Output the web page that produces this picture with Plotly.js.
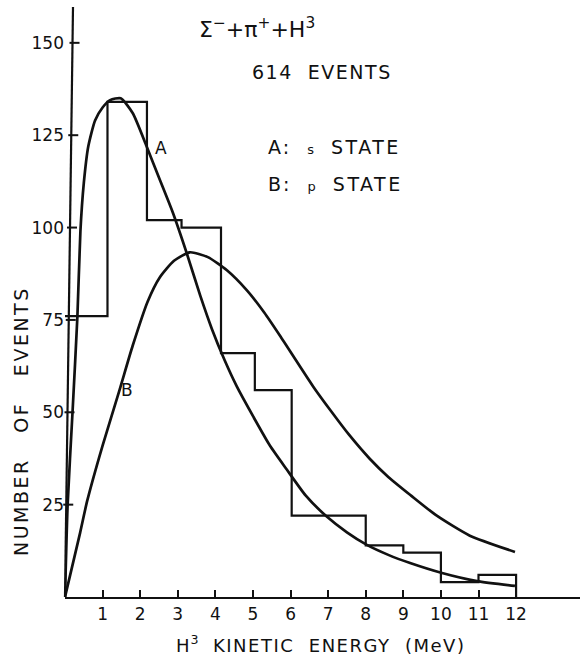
<!DOCTYPE html>
<html>
<head>
<meta charset="utf-8">
<script src="https://cdn.plot.ly/plotly-3.0.1.min.js"></script>
<style>html,body{margin:0;padding:0;background:#fff;}</style>
</head>
<body>
<div id="chart" style="width:580px;height:662px;"></div>
<script>
// Histogram of events (bin edges in MeV, counts per bin)
const binEdges = [0, 1.13, 2.18, 3.1, 4.15, 5.05, 6.03, 8, 9, 10, 11, 12];
const binCounts = [76, 134, 102, 100, 66, 56, 22, 14, 12, 4, 6];

// Curve A: s state
const curveAx = [0, 0.07, 0.2, 0.33, 0.41, 0.5, 0.62, 0.8, 1.0, 1.2, 1.48, 1.8, 2.17, 2.52, 2.87, 3.24, 3.6, 3.91, 4.25, 4.57, 5.01, 5.45, 5.9, 6.4, 6.97, 7.5, 8.03, 8.6, 9.18, 10.03, 10.96, 11.97];
const curveAy = [0, 25, 50, 76, 99, 112, 122, 129, 132.5, 134.5, 135, 131, 122, 113, 104, 93, 81.5, 72.5, 64, 57, 48.8, 41, 34.5, 27.5, 21.7, 17.5, 14.1, 11.4, 9.2, 6.5, 4.3, 3.0];

// Curve B: p state
const curveBx = [0, 0.4, 0.59, 1.0, 1.45, 1.8, 2.2, 2.52, 2.9, 3.32, 3.8, 4.3, 4.84, 5.3, 5.72, 6.6, 7.1, 7.55, 8.1, 8.6, 9.2, 9.89, 10.77, 11.97];
const curveBy = [0, 17.3, 26, 41, 56, 68, 80, 86.5, 91, 93.3, 92, 88.5, 83, 77, 70.7, 57, 50, 44, 37.5, 32.5, 27.5, 22, 16.6, 12.2];

const xTicks = [1, 2, 3, 4, 5, 6, 7, 8, 9, 10, 11, 12];
const yTicks = [25, 50, 75, 100, 125, 150];

// layout geometry
const W = 580, H = 662, L = 65, T = 7, B = 65, R = 0;
const PW = W - L - R, PH = H - T - B;
const xMax = 13.7, yMax = 159.7;
const px = (x) => (x - L) / PW;
const py = (y) => (H - B - y) / PH;
const tilt = 8; // px lean of the hand-drawn y axis at top

// histogram step line
const hx = binEdges.slice();
const hy = binCounts.concat([binCounts[binCounts.length - 1]]);
hx.push(binEdges[binEdges.length - 1]);
hy.push(0);

const ink = '#111';
const FONT = 'DejaVu Sans, sans-serif';

const traces = [
  {x: hx, y: hy, mode: 'lines', line: {shape: 'hv', color: ink, width: 2.2}, hoverinfo: 'skip'},
  {x: curveAx, y: curveAy, mode: 'lines', line: {shape: 'spline', smoothing: 0.6, color: ink, width: 2.7}, hoverinfo: 'skip'},
  {x: curveBx, y: curveBy, mode: 'lines', line: {shape: 'spline', smoothing: 0.6, color: ink, width: 2.7}, hoverinfo: 'skip'}
];

const shapes = [
  {type: 'line', xref: 'paper', yref: 'paper', x0: 0, y0: 0, x1: tilt / PW, y1: 1, line: {color: ink, width: 2.2}}
];
yTicks.forEach(v => {
  const xa = tilt * v / yMax; // px offset of axis at this height
  shapes.push({type: 'line', xref: 'paper', yref: 'y', x0: (xa - 3) / PW, x1: (xa + 7) / PW, y0: v, y1: v, line: {color: ink, width: 2}});
});

const nb = '\u00A0';
const sp = (s, ls) => '<span style="letter-spacing:' + ls + 'px">' + s + '</span>';
const annotations = [
  {text: 'Σ<sup>−</sup>+π<sup>+</sup>+H<sup>3</sup>', xref: 'paper', yref: 'paper', x: px(257), y: py(28), xanchor: 'center', yanchor: 'middle', showarrow: false, font: {family: FONT, size: 22, color: ink}},
  {text: sp('614' + nb + nb + 'EVENTS', 1.5), xref: 'paper', yref: 'paper', x: px(322), y: py(72), xanchor: 'center', yanchor: 'middle', showarrow: false, font: {family: FONT, size: 19, color: ink}},
  {text: sp('A:' + nb + nb, 2) + '<span style="font-size:13px">s</span>' + sp(nb + nb + 'STATE', 2.5), xref: 'paper', yref: 'paper', x: px(266), y: py(147), xanchor: 'left', yanchor: 'middle', showarrow: false, font: {family: FONT, size: 19, color: ink}},
  {text: sp('B:' + nb + nb, 2) + '<span style="font-size:13px">p</span>' + sp(nb + nb + 'STATE', 2.5), xref: 'paper', yref: 'paper', x: px(266), y: py(184), xanchor: 'left', yanchor: 'middle', showarrow: false, font: {family: FONT, size: 19, color: ink}},
  {text: 'A', xref: 'x', yref: 'y', x: 2.56, y: 121.6, xanchor: 'center', yanchor: 'middle', showarrow: false, font: {family: FONT, size: 17, color: ink}},
  {text: 'B', xref: 'x', yref: 'y', x: 1.66, y: 56.1, xanchor: 'center', yanchor: 'middle', showarrow: false, font: {family: FONT, size: 17, color: ink}},
  {text: sp('H', 1) + '<sup>3</sup>' + sp(nb + nb + 'KINETIC' + nb + nb + 'ENERGY' + nb + nb + '(MeV)', 1.5), xref: 'paper', yref: 'paper', x: px(320), y: py(644), xanchor: 'center', yanchor: 'middle', showarrow: false, font: {family: FONT, size: 18, color: ink}},
  {text: sp('NUMBER' + nb + nb + nb + 'OF' + nb + nb + nb + 'EVENTS', 2.5), xref: 'paper', yref: 'paper', x: px(21), y: py(421), xanchor: 'center', yanchor: 'middle', textangle: -90, showarrow: false, font: {family: FONT, size: 19, color: ink}}
];

const layout = {
  width: W, height: H,
  margin: {l: L, r: R, t: T, b: B, pad: 0},
  paper_bgcolor: '#fff', plot_bgcolor: '#fff',
  showlegend: false,
  xaxis: {range: [0, xMax], tickvals: xTicks, ticktext: xTicks.map(String), ticks: 'inside', ticklen: 7, tickwidth: 2, tickcolor: ink,
          showline: true, linecolor: ink, linewidth: 2.2, showgrid: false, zeroline: false, fixedrange: true,
          tickfont: {family: FONT, size: 17, color: ink}},
  yaxis: {range: [0, yMax], tickvals: yTicks, ticktext: yTicks.map(String), ticks: '', showline: false, showgrid: false, zeroline: false, fixedrange: true,
          tickfont: {family: FONT, size: 17, color: ink}},
  shapes: shapes,
  annotations: annotations
};

Plotly.newPlot('chart', traces, layout, {staticPlot: true, displayModeBar: false});
</script>
</body>
</html>
